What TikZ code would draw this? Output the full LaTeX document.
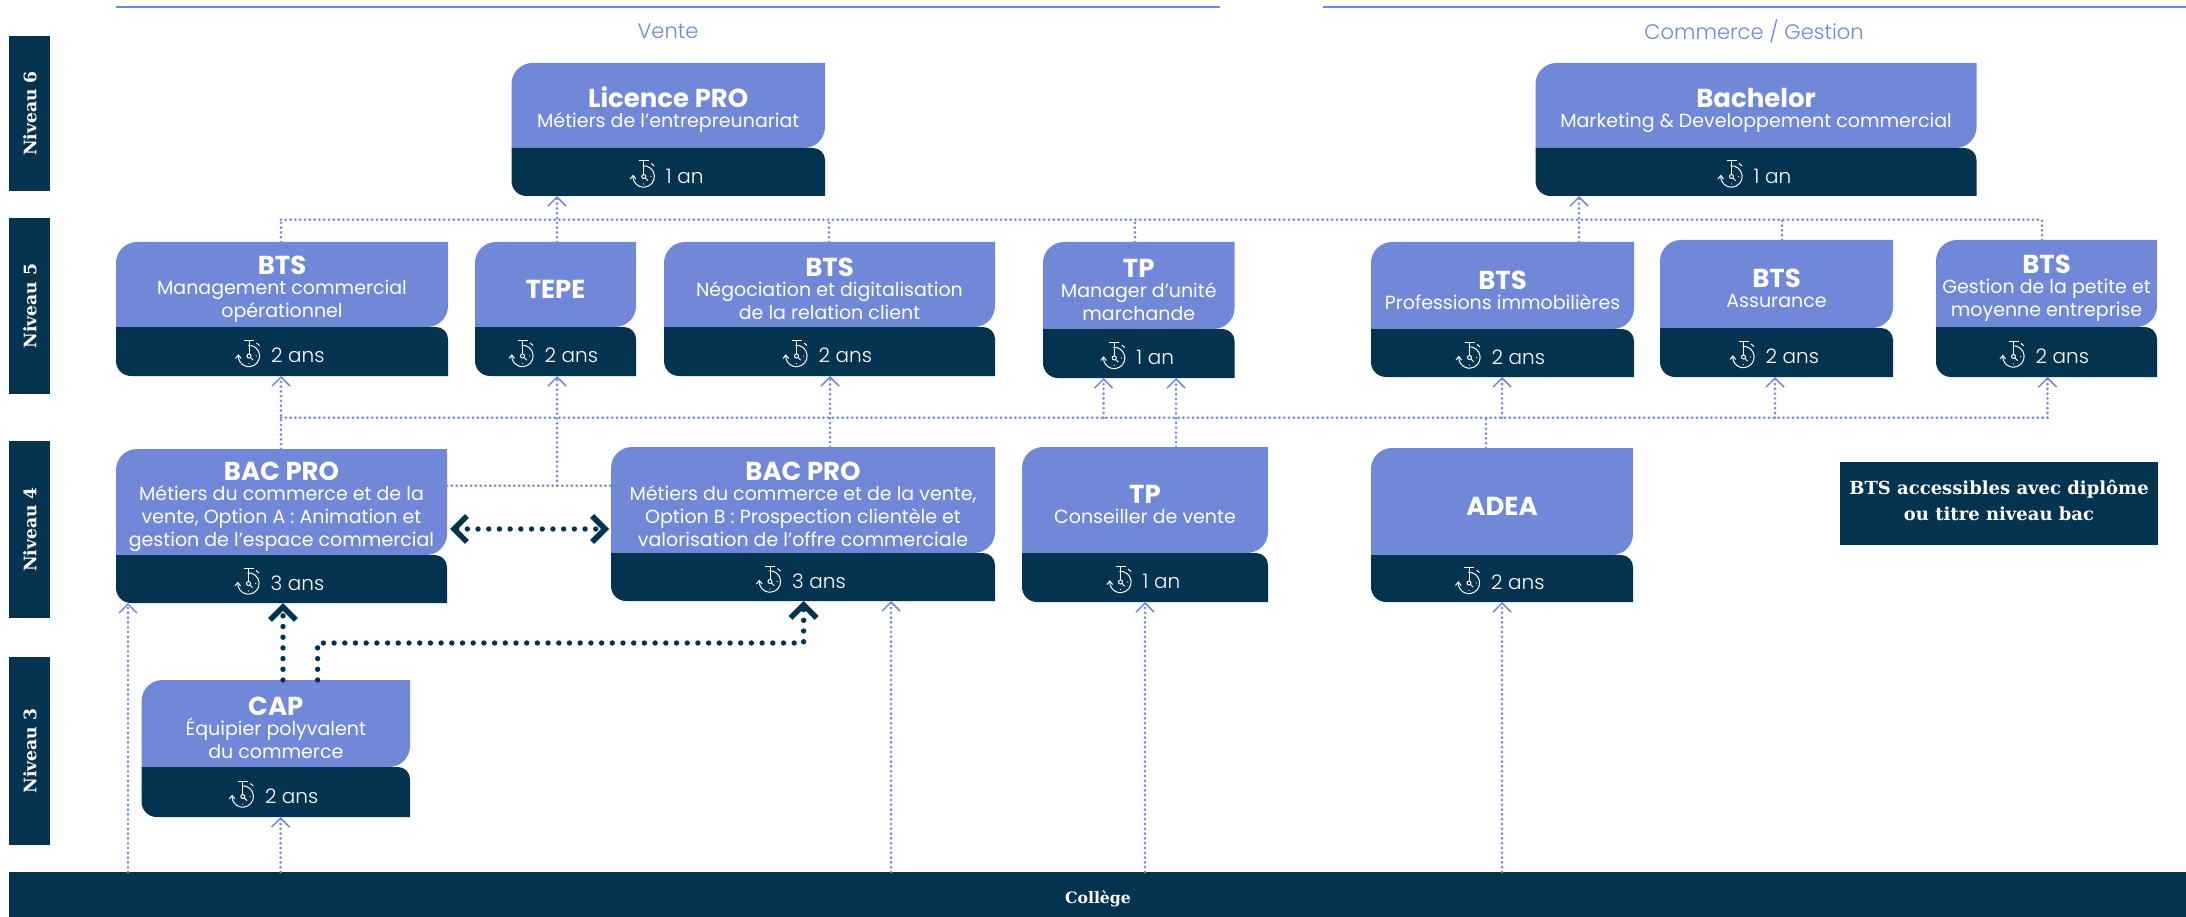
\documentclass[tikz,border=0pt]{standalone}
\usepackage{fontspec}
\usetikzlibrary{arrows.meta,calc}
\setmainfont{Poppins}
\newfontfamily\lightf{Poppins Light}
\newfontfamily\slabf{DejaVu Serif}
\definecolor{peri}{HTML}{7187D8}
\definecolor{navy}{HTML}{04334F}
\newcommand{\titlef}{\fontsize{26}{23}\bfseries\selectfont}
\tikzset{
  x=1pt,y=-1pt,
  anchorbox/.style={inner sep=0pt,outer sep=0pt,draw=none},
  cardtext/.style={text=white,align=center,inner sep=0pt,font=\fontsize{19}{23}\selectfont},
  durtext/.style={text=white,anchor=west,inner sep=0pt,font=\lightf\fontsize{20}{23}\selectfont},
  bartext/.style={text=white,rotate=90,inner sep=0pt,font=\slabf\bfseries\fontsize{17.2}{18}\selectfont},
  levelbar/.style={fill=navy,inner sep=0pt,outer sep=0pt},
  headtext/.style={text=peri,inner sep=0pt,font=\lightf\fontsize{21}{23}\selectfont},
  headline/.style={draw=peri,line width=2pt},
  lightlink/.style={draw=peri,line width=2.9pt,line cap=round,dash pattern=on 0pt off 4.8pt},
  lightarrow/.style={lightlink,-{Straight Barb[length=9pt,width=18pt,line width=1.5pt,line cap=butt]}},
  darklink/.style={draw=navy,line width=5.4pt,line cap=round,dash pattern=on 0pt off 10.7pt},
  darkarrow/.style={darklink,-{Straight Barb[length=13pt,width=26pt,line width=5.5pt,line cap=butt]}},
  darkboth/.style={darklink,{Straight Barb[length=13pt,width=26pt,line width=5.5pt,line cap=butt]}-{Straight Barb[length=13pt,width=26pt,line width=5.5pt,line cap=butt]}},
  iconline/.style={draw=white,line width=1pt},
}
% stopwatch icon, centre at #1,#2
\newcommand{\stopwatch}[2]{%
  \begin{scope}[shift={(#1,#2)}]
    \draw[iconline] (-1pt,10.7pt) arc[start angle=95,end angle=-180,radius=10.7pt];
    \draw[iconline] (-13.5pt,-2.5pt) -- (-10.7pt,1pt) -- (-7.9pt,-2.5pt);
    \draw[iconline] (-5pt,15.5pt) -- (5pt,15.5pt);
    \draw[iconline] (0pt,15.5pt) -- (0pt,2pt);
    \draw[iconline] (0pt,0pt) circle[radius=2pt];
    \draw[iconline] (1.5pt,-1.5pt) -- (4.2pt,-4.2pt);
    \draw[iconline] (7.5pt,13pt) -- (10.5pt,10.5pt);
    \fill[white] (7.2pt,0pt) circle[radius=.7pt] (0pt,-7.5pt) circle[radius=.7pt];
  \end{scope}}
% name, x1, x2, y1, ysplit, y2, text, duration, icon offset
\newcommand{\course}[9]{%
  \fill[peri] (#2,#5) [rounded corners=21pt] -- (#2,#4) [sharp corners] -- (#3,#4) [rounded corners=21pt] -- (#3,#5) [sharp corners] -- cycle;
  \fill[navy] (#2,#5) [rounded corners=15pt] -- (#2,#6) [sharp corners] -- (#3,#6) [sharp corners] -- (#3,#5+12) [rounded corners=12pt] -- (#3,#5) [sharp corners] -- cycle;
  \node[anchorbox,minimum width={(#3-#2)*1pt},minimum height={(#6-#4)*1pt}] (#1) at ({(#2+#3)/2},{(#4+#6)/2}) {};
  \node[cardtext] (#1-t) at ({(#2+#3)/2},{(#4+#5)/2+4.5}) {#7};
  \stopwatch{{(#2+#3)/2+(#9)}}{{(#5+#6)/2+4.5}}
  \node[durtext] (#1-d) at ({(#2+#3)/2+(#9)+22},{(#5+#6)/2+4}) {#8};
}
\begin{document}
\begin{tikzpicture}
\useasboundingbox (0,0) rectangle (2186,917);
\fill[white] (0,0) rectangle (2186,917);

% column headers
\coordinate (hl1) at (116,7.5); \coordinate (hr1) at (1220,7.5);
\coordinate (hl2) at (1323,7.5); \coordinate (hr2) at (2186,7.5);
\draw[headline] (hl1) -- (hr1);
\draw[headline] (hl2) -- (hr2);
\node[headtext] (vente) at (668,31) {Vente};
\node[headtext] (commerce) at (1754,31) {Commerce / Gestion};

% level bars
\fill[levelbar] (9,36) rectangle (50,191);
\fill[levelbar] (9,218) rectangle (50,394);
\fill[levelbar] (9,441) rectangle (50,618);
\fill[levelbar] (9,657) rectangle (50,845);
\node[bartext] (n6) at (30,113.5) {Niveau 6};
\node[bartext] (n5) at (30,306) {Niveau 5};
\node[bartext] (n4) at (30,529.5) {Niveau 4};
\node[bartext] (n3) at (30,751) {Niveau 3};

% college bar
\fill[navy] (9,872) rectangle (2186,917);
\node[anchorbox,minimum width=2177pt,minimum height=45pt] (college) at (1097.5,894.5) {};
\node[text=white,inner sep=0pt,font=\slabf\bfseries\fontsize{15.7}{16}\selectfont] (college-t) at (1098,899) {Collège};

% cards
\course{lic}{511.5}{825}{63}{148}{196}{{\titlef Licence PRO}\\[-3pt]Métiers de l’entrepreunariat}{1 an}{-24.5}
\course{bach}{1535.5}{1976.5}{63}{148}{196}{{\titlef Bachelor}\\[-3pt]Marketing \& Developpement commercial}{1 an}{-24.5}
\course{mco}{116}{448}{242}{327}{376}{{\titlef BTS}\\[-3pt]Management commercial\\opérationnel}{2 ans}{-33}
\course{tepe}{475}{636}{242}{327}{376}{{\titlef TEPE}}{2 ans}{-33}
\course{ndrc}{664}{995}{242}{327}{376}{{\titlef BTS}\\[-3pt]Négociation et digitalisation\\de la relation client}{2 ans}{-33}
\course{tpm}{1043}{1234.5}{242}{329}{378}{{\titlef TP}\\[-3pt]Manager d’unité\\marchande}{1 an}{-24.5}
\course{immo}{1371}{1634}{242}{329}{377}{{\titlef BTS}\\[-3pt]Professions immobilières}{2 ans}{-33}
\course{assu}{1660}{1893}{240}{328}{377}{{\titlef BTS}\\[-3pt]Assurance}{2 ans}{-33}
\course{gpme}{1936}{2157}{240}{327}{377}{{\titlef BTS}\\[-3pt]Gestion de la petite et\\moyenne entreprise}{2 ans}{-33}
\course{baca}{116}{447}{449}{555}{603}{{\titlef BAC PRO}\\[-3pt]Métiers du commerce et de la\\vente, Option A : Animation et\\gestion de l’espace commercial}{3 ans}{-33}
\course{bacb}{611}{995}{447}{553}{601}{{\titlef BAC PRO}\\[-3pt]Métiers du commerce et de la vente,\\Option B : Prospection clientèle et\\valorisation de l’offre commerciale}{3 ans}{-33}
\course{tpc}{1022}{1268}{447}{553}{602}{{\titlef TP}\\[-3pt]Conseiller de vente}{1 an}{-24.5}
\course{adea}{1371}{1633}{448}{555}{602}{{\titlef ADEA}}{2 ans}{-33}
\course{cap}{141.6}{410}{680}{767}{817}{{\titlef CAP}\\[-3pt]Équipier polyvalent\\du commerce}{2 ans}{-33}

% note
\node[fill=navy,text=white,inner sep=0pt,minimum width=318pt,minimum height=83pt,align=center,font=\slabf\bfseries\fontsize{18}{26}\selectfont] (note) at (1999,503.5) {\raisebox{6pt}{BTS accessibles avec diplôme}\\\raisebox{6pt}{ou titre niveau bac}};

% buses
\coordinate (busH) at (0,219.7);
\coordinate (busL) at (0,417.7);
\coordinate (link) at (0,485.7);
\coordinate (turn) at (0,643);
\draw[lightlink] (281,0 |- busH) -- (2042,0 |- busH);
\draw[lightlink] (281,0 |- busL) -- (2047.5,0 |- busL);
\draw[lightlink] (baca.east |- link) -- (bacb.west |- link);

% upper connectors
\draw[lightlink] (281,0 |- mco.north) -- (281,0 |- busH);
\draw[lightarrow] (557,0 |- tepe.north) -- (557,0 |- lic.south);
\draw[lightlink] (829,0 |- ndrc.north) -- (829,0 |- busH);
\draw[lightlink] (1135,0 |- tpm.north) -- (1135,0 |- busH);
\draw[lightarrow] (1579,0 |- immo.north) -- (1579,0 |- bach.south);
\draw[lightlink] (1782,0 |- assu.north) -- (1782,0 |- busH);
\draw[lightlink] (2042,0 |- gpme.north) -- (2042,0 |- busH);

% lower connectors
\draw[lightarrow] (281,0 |- baca.north) -- (281,0 |- mco.south);
\draw[lightarrow] (557,0 |- link) -- (557,0 |- tepe.south);
\draw[lightarrow] (830,0 |- bacb.north) -- (830,0 |- ndrc.south);
\draw[lightarrow] (1103.6,0 |- busL) -- (1103.6,0 |- tpm.south);
\draw[lightarrow] (1176,0 |- tpc.north) -- (1176,0 |- tpm.south);
\draw[lightlink] (1486,0 |- adea.north) -- (1486,0 |- busL);
\draw[lightarrow] (1502,0 |- busL) -- (1502,0 |- immo.south);
\draw[lightarrow] (1775,0 |- busL) -- (1775,0 |- assu.south);
\draw[lightarrow] (2047.5,0 |- busL) -- (2047.5,0 |- gpme.south);

% from college
\draw[lightarrow] (128,0 |- college.north) -- (128,0 |- baca.south);
\draw[lightarrow] (280.6,0 |- college.north) -- (280.6,0 |- cap.south);
\draw[lightarrow] (891,0 |- college.north) -- (891,0 |- bacb.south);
\draw[lightarrow] (1145,0 |- college.north) -- (1145,0 |- tpc.south);
\draw[lightarrow] (1502,0 |- college.north) -- (1502,0 |- adea.south);

% dark connectors
\draw[darkboth,shorten <=3pt,shorten >=2pt] (baca.east |- 0,529) -- (bacb.west |- 0,529);
\draw[darkarrow] (283,0 |- cap.north) -- (283,0 |- baca.south);
\draw[darkarrow] (317.6,0 |- cap.north) -- (317.6,0 |- turn) -- (803.6,0 |- turn) -- (803.6,0 |- bacb.south);
\end{tikzpicture}
\end{document}
